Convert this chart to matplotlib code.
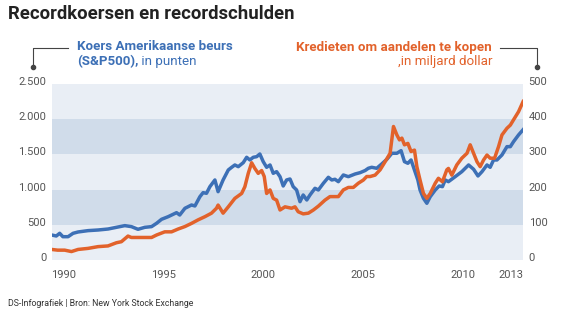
import matplotlib.pyplot as plt
from matplotlib.lines import Line2D
from matplotlib.transforms import ScaledTranslation

# S&P500-koers (linkeras, punten)
sp_jaar = [1989.40, 1989.63, 1989.80, 1989.96, 1990.22, 1990.47, 1990.72, 1991.22, 1991.72, 1992.22,
           1992.64, 1993.06, 1993.39, 1993.72, 1994.06, 1994.40, 1994.65, 1994.90, 1995.23, 1995.65,
           1995.81, 1996.07, 1996.40, 1996.57, 1996.82, 1996.98, 1997.15, 1997.32, 1997.57, 1997.73,
           1997.98, 1998.24, 1998.41, 1998.57, 1998.74, 1998.99, 1999.16, 1999.32, 1999.49, 1999.66,
           1999.82, 1999.99, 2000.16, 2000.33, 2000.49, 2000.66, 2000.83, 2000.99, 2001.16, 2001.33,
           2001.49, 2001.66, 2001.83, 2001.99, 2002.17, 2002.33, 2002.58, 2002.75, 2003.00, 2003.25,
           2003.42, 2003.58, 2003.75, 2004.00, 2004.25, 2004.59, 2004.84, 2005.09, 2005.25, 2005.42,
           2005.67, 2005.92, 2006.18, 2006.43, 2006.68, 2006.89, 2007.06, 2007.23, 2007.39, 2007.56,
           2007.73, 2007.84, 2008.01, 2008.18, 2008.35, 2008.60, 2008.80, 2008.96, 2009.10, 2009.26,
           2009.60, 2009.93, 2010.27, 2010.52, 2010.74, 2010.94, 2011.19, 2011.35, 2011.52, 2011.69,
           2011.94, 2012.19, 2012.36, 2012.52, 2012.77, 2013.00]
sp_koers = [355, 341, 379, 331, 331, 379, 398, 417, 426, 440,
            464, 488, 474, 436, 464, 474, 521, 578, 615, 672,
            639, 734, 781, 767, 899, 956, 947, 1041, 1136, 970,
            1136, 1278, 1316, 1349, 1325, 1382, 1458, 1420, 1458, 1467,
            1505, 1396, 1316, 1349, 1231, 1254, 1183, 1051, 1136, 1150,
            1041, 994, 828, 923, 852, 923, 1018, 994, 1089, 1174,
            1136, 1146, 1112, 1207, 1183, 1221, 1240, 1270, 1302, 1316,
            1302, 1363, 1430, 1515, 1515, 1552, 1396, 1373, 1420, 1278,
            1136, 994, 876, 805, 899, 994, 1051, 1041, 1136, 1112,
            1183, 1254, 1349, 1288, 1193, 1254, 1349, 1316, 1420, 1420,
            1491, 1609, 1609, 1680, 1775, 1850]

# krediet om aandelen te kopen (rechteras, miljard dollar)
kr_jaar = [1989.40, 1989.70, 1990.05, 1990.39, 1990.72, 1991.22, 1991.72, 1992.22, 1992.64, 1992.89,
           1993.22, 1993.39, 1993.72, 1994.06, 1994.40, 1994.65, 1995.06, 1995.40, 1995.73, 1996.07,
           1996.40, 1996.73, 1997.07, 1997.40, 1997.65, 1997.73, 1997.98, 1998.24, 1998.57, 1998.91,
           1999.07, 1999.24, 1999.41, 1999.57, 1999.74, 1999.91, 2000.04, 2000.16, 2000.33, 2000.49,
           2000.66, 2000.83, 2001.08, 2001.41, 2001.58, 2001.74, 2001.99, 2002.25, 2002.50, 2002.75,
           2003.08, 2003.33, 2003.75, 2004.00, 2004.25, 2004.50, 2004.75, 2005.00, 2005.17, 2005.34,
           2005.59, 2005.84, 2006.09, 2006.34, 2006.51, 2006.68, 2006.81, 2006.93, 2007.06, 2007.23,
           2007.39, 2007.56, 2007.68, 2007.84, 2008.01, 2008.18, 2008.35, 2008.60, 2008.76, 2008.96,
           2009.18, 2009.26, 2009.43, 2009.68, 2009.93, 2010.19, 2010.35, 2010.52, 2010.69, 2010.85,
           2011.02, 2011.19, 2011.35, 2011.57, 2011.77, 2011.94, 2012.19, 2012.36, 2012.52, 2012.77,
           2013.00]
kr_krediet = [30, 28, 28, 24, 30, 33, 38, 40, 49, 52,
              68, 64, 64, 64, 64, 71, 80, 80, 88, 95,
              104, 114, 123, 133, 147, 156, 133, 151, 175, 189,
              208, 246, 276, 260, 246, 254, 237, 189, 199, 175,
              170, 142, 151, 147, 151, 137, 131, 133, 142, 153,
              170, 180, 180, 199, 206, 206, 218, 227, 237, 237,
              241, 256, 279, 303, 379, 355, 341, 346, 327, 331,
              308, 312, 265, 227, 189, 175, 189, 218, 232, 222,
              256, 260, 241, 270, 289, 303, 327, 303, 279, 265,
              284, 298, 289, 289, 322, 355, 374, 383, 398, 421,
              450]

links_ticks = [0, 500, 1000, 1500, 2000, 2500]
links_labels = ['0', '500', '1.000', '1.500', '2.000', '2.500']
rechts_ticks = [0, 100, 200, 300, 400, 500]
jaar_ticks = [1990, 1995, 2000, 2005, 2010, 2013]

BLAUW = '#3d70b6'
ORANJE = '#e2622b'
LICHT = '#e9eef5'
DONKER = '#d0dcea'
GRIJS = '#555555'
LIJN = '#444444'

plt.rcParams['font.family'] = ['Roboto', 'DejaVu Sans']

fig = plt.figure(figsize=(5.68, 3.22), dpi=100)
fig.patch.set_facecolor('white')
ax = fig.add_axes([0.091, 0.1925, 0.830, 0.547])
ax.set_facecolor(LICHT)
for onder in (500, 1500):
    ax.axhspan(onder, onder + 500, color=DONKER, lw=0, zorder=0)

ax.plot(sp_jaar, sp_koers, color=BLAUW, lw=2.5, solid_joinstyle='round', zorder=3)
ax.set_xlim(1989.4, 2013.0)
ax.set_ylim(0, 2500)

ax2 = ax.twinx()
ax2.plot(kr_jaar, kr_krediet, color=ORANJE, lw=2.5, solid_joinstyle='round', zorder=3)
ax2.set_ylim(0, 500)

for a in (ax, ax2):
    for s in a.spines.values():
        s.set_visible(False)
    a.tick_params(length=0, labelsize=8, labelcolor=GRIJS)

ax.set_yticks(links_ticks, links_labels)
ax.tick_params(axis='y', pad=4)
ax2.set_yticks(rechts_ticks, [str(v) for v in rechts_ticks])
ax2.tick_params(axis='y', pad=4)
ax.set_xticks(jaar_ticks, [str(j) for j in jaar_ticks])
ax.tick_params(axis='x', pad=7)
ax.get_xticklabels()[-1].set_ha('right')

# y-labels iets boven de lijn
omhoog = ScaledTranslation(0, 3 / 100, fig.dpi_scale_trans)
for lab in ax.get_yticklabels() + ax2.get_yticklabels():
    lab.set_transform(lab.get_transform() + omhoog)

W, H = 568, 322


def fx(px):
    return px / W


def fy(py):
    return 1 - py / H


fig.text(fx(8), fy(19), 'Recordkoersen en recordschulden', fontsize=13.3, fontweight='bold',
         color='#222222', va='baseline')

# legendeblok links
fig.text(fx(77), fy(47), 'Koers Amerikaanse beurs', fontsize=9.6, fontweight='bold',
         color=BLAUW, va='center')
t2 = fig.text(fx(77), fy(62), '(S&P500),', fontsize=9.6, fontweight='bold', color=BLAUW, va='center')
fig.add_artist(plt.Annotation(' in punten', xy=(1, 0.5), xycoords=t2, va='center',
                              fontsize=9.6, color=BLAUW))

# legendeblok rechts
fig.text(fx(492), fy(47), 'Kredieten om aandelen te kopen', fontsize=9.6, fontweight='bold',
         color=ORANJE, va='center', ha='right')
fig.text(fx(492), fy(62), ',in miljard dollar', fontsize=9.6, color=ORANJE, va='center', ha='right')

# haakjes naar de assen
for xs, ys in (([68, 33, 33], [48, 48, 67]), ([500, 537, 537], [48, 48, 67])):
    fig.add_artist(Line2D([fx(x) for x in xs], [fy(y) for y in ys], color=LIJN, lw=0.8))
    fig.add_artist(Line2D([fx(xs[-1])], [fy(ys[-1])], marker='o', ms=3, color=LIJN))

fig.text(fx(8), fy(304), 'DS-Infografiek | Bron: New York Stock Exchange', fontsize=6.3,
         color='#333333', va='center')

fig.savefig('out.png', dpi=100)
